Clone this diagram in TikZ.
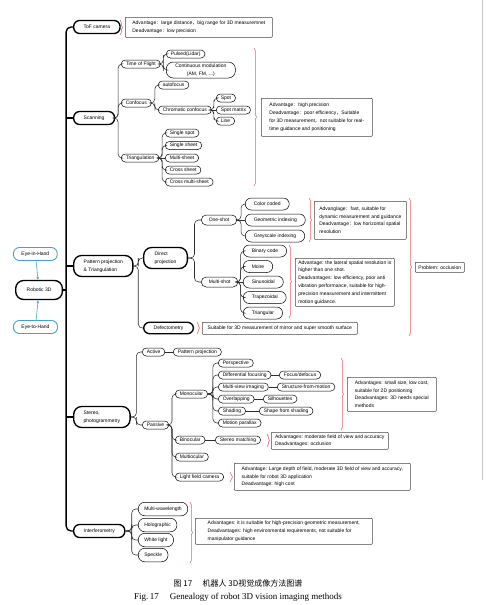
\documentclass[tikz,border=0pt]{standalone}
\usepackage{fontspec}
\setmainfont{Liberation Sans}
\newfontfamily\cjk{Noto Sans CJK SC}
\newfontfamily\capfont{Liberation Serif}
\usetikzlibrary{calc,decorations.pathreplacing,arrows.meta}
\newcommand{\fs}{\fontsize{5}{7.8}\selectfont}
\newcommand{\cc}[1]{{\cjk #1}}
\definecolor{bracered}{RGB}{232,96,104}
\definecolor{eyeblue}{RGB}{72,162,196}
\definecolor{boxgray}{RGB}{70,70,70}
\definecolor{linegray}{RGB}{45,45,45}
\begin{document}
\begin{tikzpicture}[x=1pt, y=-1pt, font=\fs,
    main/.style={draw, line width=1.35pt, rounded corners=6pt, minimum height=13pt, inner xsep=10pt, inner ysep=1pt, align=left, anchor=west},
    mainl/.style={main, rounded corners=8pt, minimum height=21pt},
    sub/.style={draw, line width=.5pt, rounded corners=4pt, minimum height=8pt, inner xsep=4.5pt, inner ysep=.5pt, anchor=west},
    subm/.style={sub, rounded corners=5pt, minimum height=10pt, inner xsep=7.5pt},
    subl/.style={sub, rounded corners=6pt, minimum height=12pt, inner xsep=8.5pt},
    subi/.style={sub, rounded corners=6.5pt, minimum height=13.5pt, inner xsep=6pt},
    eye/.style={main, draw=eyeblue, line width=.9pt, inner xsep=8pt},
    info/.style={draw=boxgray, line width=.6pt, rounded corners=.8pt, align=left, anchor=north west, inner xsep=2.5pt, inner ysep=1.5pt},
    brc/.style={draw=bracered, line width=.5pt, decorate, decoration={brace, amplitude=2.5pt}},
    link/.style={draw=linegray, line width=.55pt, rounded corners=4pt},
    trunk/.style={line width=1.35pt, rounded corners=5pt},
    eyelink/.style={draw=eyeblue, line width=.6pt, -{Stealth[length=3pt,width=2.5pt]}},
    fork/.style={to path={(\tikztostart.east) -| ($(\tikztostart.east)!.5!(\tikztotarget.west)$) |- (\tikztotarget.west)}},
]
\useasboundingbox (0,0) rectangle (486,605);
\draw[gray!45, line width=.5pt] (482.5,0) -- (482.5,480);

% root and main branches
\node[main, rounded corners=8pt, minimum height=19pt, inner xsep=11pt] (robot) at (15,290) {Robotic 3D};
\node[eye] (eih) at (13,254) {Eye-in-Hand};
\node[eye] (eth) at (13,327) {Eye-to-Hand};
\draw[eyelink] (eih) -- (robot);
\draw[eyelink] (eth) -- (robot);

\node[main] (tof) at (73,27) {ToF camera};
\node[main] (scan) at (73,118) {Scanning};
\node[mainl] (pat) at (73,266) {Pattern projection\\\& Triangulation};
\node[mainl] (ster) at (73,417) {Stereo,\\photogrammetry};
\node[main] (intf) at (73,531) {Interferometry};

\coordinate (tk) at ([xshift=3pt]robot.east);
\draw[trunk] (tof.west) -| (tk) |- (intf.west);
\draw[trunk] (robot.east) -- (tk);
\foreach \n in {scan,pat,ster}
    \draw[trunk] (tk |- \n.west) -- (\n.west);

% ToF camera
\draw[brc] (120,20) -- (120,35);
\node[info, minimum width=147pt, minimum height=20pt] (toft) at (125,17) {Advantage\cc{：}large distance\cc{，}big range for 3D measuremnet\\Deadvantage\cc{：}low precision};

% Scanning
\node[sub] (tofl) at (121,64) {Time of Flight};
\node[sub] (conf) at (121,103) {Confocus};
\node[sub] (tri) at (121,158) {Triangulation};
\node[sub] (puls) at (166,54) {Pulsed(Lidar)};
\node[sub, align=center, rounded corners=7pt, minimum height=16pt, inner xsep=9pt] (cont) at (166,70) {Continuous modulation\\(AM, FM, ...)};
\node[sub] (auto) at (158,85) {autofocus};
\node[sub] (chro) at (158,110) {Chromatic confocus};
\node[sub] (spot) at (216,98) {Spot};
\node[sub] (smat) at (216,110) {Spot matrix};
\node[sub] (line) at (216,121) {Line};
\node[sub] (ssp) at (165,133) {Single spot};
\node[sub] (ssh) at (165,145.5) {Single sheet};
\node[sub] (msh) at (165,158) {Multi-sheet};
\node[sub] (csh) at (165,170) {Cross sheet};
\node[sub] (cms) at (165,182) {Cross multi-sheet};
\foreach \c in {tofl,conf,tri}
    \draw[link] (scan) to[fork] (\c);
\foreach \c in {puls,cont}
    \draw[link] (tofl) to[fork] (\c);
\foreach \c in {auto,chro}
    \draw[link] (conf) to[fork] (\c);
\foreach \c in {spot,line}
    \draw[link] (chro) to[fork] (\c);
\draw[link] (chro) -- (smat);
\foreach \c in {ssp,ssh,csh,cms}
    \draw[link] (tri) to[fork] (\c);
\draw[link] (tri) -- (msh);
\draw[brc] (254,48) -- (254,186);
\node[info, minimum width=111pt, minimum height=38pt] (scant) at (261,98) {Advantage\cc{：}high precision\\Deadvantage\cc{：}poor efficiency\cc{，}Suitable\\for 3D measurement\cc{，}not suitable for real-\\time guidance and positioning};

% Pattern projection
\node[mainl, inner xsep=11pt] (dir) at (143,258) {Direct\\projection};
\node[main, minimum height=11.5pt] (defl) at (143,328) {Defectometry};
\node[subm] (one) at (201,220) {One-shot};
\node[subm] (mul) at (201,282) {Multi-shot};
\node[subl] (colc) at (245,204) {Color coded};
\node[subl] (gi) at (245,220) {Geometric indexing};
\node[subl] (gsi) at (245,236) {Greyscale indexing};
\node[subl] (bc) at (243,251) {Binary code};
\node[subl] (moi) at (243,266.5) {Moire};
\node[subl] (sin) at (243,282) {Sinusoidal};
\node[subl] (trap) at (243,297.5) {Trapezoidal};
\node[subl] (trg) at (243,313) {Triangular};
\foreach \c in {dir,defl}
    \draw[link] (pat) to[fork] (\c);
\foreach \c in {one,mul}
    \draw[link] (dir) to[fork] (\c);
\foreach \c in {colc,gsi}
    \draw[link] (one) to[fork] (\c);
\draw[link] (one) -- (gi);
\foreach \c in {bc,moi,trap,trg}
    \draw[link] (mul) to[fork] (\c);
\draw[link] (mul) -- (sin);
\draw[brc] (309,198) -- (309,242);
\node[info, minimum width=92pt, minimum height=38pt] (onet) at (314,201) {Advanglage\cc{：}fast, suitable for\\dynamic measurement and guidance\\Deadvantage\cc{：}low horizontal spatial\\resolution};
\draw[brc] (289,245) -- (289,318);
\node[info, minimum width=99pt, minimum height=48pt] (mult) at (295,258) {Advantage: the lateral spatial resolution is\\higher than one shot.\\Deadvantages: low efficiency, poor anti\\vibration performance, suitable for high-\\precision measurement and intermittent\\motion guidance.};
\draw[brc] (409,198) -- (409,336);
\node[info, minimum width=49pt, minimum height=10pt] (prob) at (415,262) {Problem: occlusion};
\draw[brc] (197,322) -- (197,334);
\node[info, minimum width=155pt, minimum height=12pt] (deflt) at (202,322) {Suitable for 3D measurement of mirror and super smooth surface};

% Stereo
\node[sub] (act) at (142,352) {Active};
\node[sub] (ppj) at (173,352) {Pattern projection};
\node[sub] (pas) at (142,425) {Passive};
\node[sub] (mono) at (175,394) {Monocular};
\node[sub] (bino) at (175,440) {Binocular};
\node[sub] (mulo) at (175,457) {Multiocular};
\node[sub] (lfc) at (175,477) {Light field camera};
\node[sub] (persp) at (218,363) {Perspective};
\node[sub] (dfoc) at (218,375) {Differential focusing};
\node[sub] (mvi) at (218,387) {Multi-view imaging};
\node[sub] (ovl) at (218,399) {Overlapping};
\node[sub] (shad) at (218,411) {Shading};
\node[sub] (mpar) at (218,423) {Motion parallax};
\node[sub] (fdf) at (279,375) {Focus/defocus};
\node[sub] (sfm) at (277,387) {Structure-from-motion};
\node[sub] (silh) at (263,399) {Silhouettes};
\node[sub] (sfs) at (259,411) {Shape from shading};
\node[sub] (stm) at (215,440) {Stereo matching};
\foreach \c in {act,pas}
    \draw[link] (ster) to[fork] (\c);
\draw[link] (act) -- (ppj);
\foreach \c in {mono,bino,mulo,lfc}
    \draw[link] (pas) to[fork] (\c);
\foreach \c in {persp,dfoc,mvi,ovl,shad,mpar}
    \draw[link] (mono) to[fork] (\c);
\draw[link] (dfoc) -- (fdf);
\draw[link] (mvi) -- (sfm);
\draw[link] (ovl) -- (silh);
\draw[link] (shad) -- (sfs);
\draw[link] (bino) -- (stm);
\draw[brc] (341,358) -- (341,430);
\node[info, minimum width=89pt, minimum height=34pt] (monot) at (347,377) {Advantages: small size, low cost,\\suitable for 2D positioning\\Deadvantages: 3D needs special\\methods};
\draw[brc] (267,434) -- (267,447);
\node[info, minimum width=117pt, minimum height=17pt] (binot) at (271,432) {Advantages: moderate field of view and accuracy\\Deadvantages: occlusion};
\draw[brc] (230,472) -- (230,482);
\node[info, minimum width=176pt, minimum height=27pt] (lfct) at (234,463) {Advantage: Large depth of field, moderate 3D field of view and accuracy,\\suitable for robot 3D application\\Deadvantage: high cost};

% Interferometry
\node[subi] (mwl) at (138,509) {Multi-wavelength};
\node[subi] (holo) at (138,525) {Holographic};
\node[subi] (wl) at (138,540) {White light};
\node[subi] (spk) at (138,555) {Speckle};
\foreach \c in {mwl,holo,wl,spk}
    \draw[link] (intf) to[fork] (\c);
\draw[brc] (190,502) -- (190,563);
\node[info, minimum width=177pt, minimum height=26pt] (intft) at (195,518) {Advantages: it is suitable for high-precision geometric measurement,\\Deadvantages: high environmental requirements, not suitable for\\manipulator guidance};

% caption
\node (cap1) at (238,583) {\cjk\fontsize{8}{9}\selectfont 图 17\hspace{1.3em}机器人 3D视觉成像方法图谱};
\node (cap2) at (238,597) {\capfont\fontsize{9}{10}\selectfont Fig.\,17\hspace{1.2em}Genealogy of robot 3D vision imaging methods};
\end{tikzpicture}
\end{document}
